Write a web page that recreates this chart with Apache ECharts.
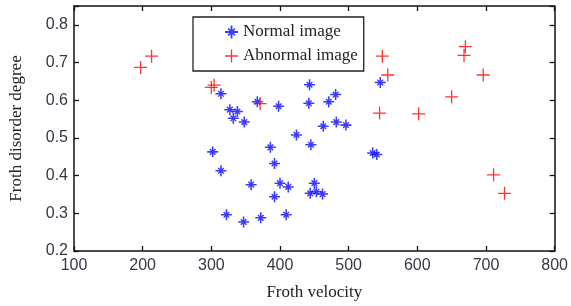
<!DOCTYPE html>
<html><head><meta charset="utf-8">
<script src="https://cdn.jsdelivr.net/npm/echarts@6/dist/echarts.min.js"></script>
<style>html,body{margin:0;padding:0;background:#fff}#c{width:571px;height:306px}</style>
</head><body><div id="c"></div>
<script>
var xTicks = [100, 200, 300, 400, 500, 600, 700, 800];
var yTicks = [0.2, 0.3, 0.4, 0.5, 0.6, 0.7, 0.8];
var seriesNames = ['Normal image', 'Abnormal image'];
var normalX = [314,327,338,332,348,367,398,424,302,386,443,442,471,481,463,482,496,445,546,535,541,314,392,358,400,412,392,322,347,372,409,450,444,453,462];
var normalY = [0.617,0.575,0.570,0.552,0.542,0.596,0.584,0.508,0.463,0.475,0.641,0.592,0.596,0.615,0.531,0.542,0.534,0.482,0.647,0.460,0.456,0.413,0.432,0.376,0.380,0.370,0.344,0.296,0.277,0.288,0.296,0.380,0.353,0.357,0.351];
var abnormalX = [197,213,300,304,371,549,557,545,602,650,670,668,696,711,727];
var abnormalY = [0.687,0.717,0.634,0.640,0.591,0.717,0.667,0.566,0.564,0.609,0.742,0.719,0.667,0.402,0.353];

function zip(a, b) { return a.map(function (v, i) { return [v, b[i]]; }); }

var starPath = 'path://M0,4.3H10V5.7H0Z M4.3,0H5.7V10H4.3Z M2,2.9L2.9,2L8,7.1L7.1,8Z M7.1,2L8,2.9L2.9,8L2,7.1Z M3.3,3.3H6.7V6.7H3.3Z';
var plusPath = 'path://M0,5.4H12V6.6H0Z M5.4,0H6.6V12H5.4Z';

var chart = echarts.init(document.getElementById('c'), null, {renderer: 'canvas'});
var axisLine = {show: true, lineStyle: {color: '#111', width: 1.5}};
var tick = {show: true, inside: true, length: 5, lineStyle: {color: '#111', width: 1.3}};
var lbl = {color: '#363646', fontFamily: 'Liberation Sans', fontSize: 16};
chart.setOption({
  animation: false,
  backgroundColor: '#fff',
  grid: {left: 65, right: 16, top: 6, bottom: 49, containLabel: false},
  legend: {
    data: seriesNames,
    orient: 'vertical',
    left: 193, top: 17,
    padding: [5, 6, 5, 32],
    itemGap: 4,
    itemWidth: 13, itemHeight: 13,
    borderColor: '#222', borderWidth: 1.3,
    backgroundColor: '#fff',
    selectedMode: false,
    textStyle: {fontFamily: 'Liberation Serif', fontSize: 17, color: '#222', lineHeight: 20}
  },
  xAxis: [{
    type: 'value', min: xTicks[0], max: xTicks[xTicks.length - 1], interval: 100,
    name: 'Froth velocity', nameLocation: 'middle', nameGap: 33,
    nameTextStyle: {fontFamily: 'Liberation Serif', fontSize: 17, color: '#222'},
    axisLine: axisLine, axisTick: tick, splitLine: {show: false},
    axisLabel: Object.assign({margin: 7}, lbl)
  }, {
    type: 'value', position: 'top', min: xTicks[0], max: xTicks[xTicks.length - 1], interval: 100,
    axisLine: axisLine, axisTick: tick, splitLine: {show: false}, axisLabel: {show: false}
  }],
  yAxis: [{
    type: 'value', min: yTicks[0], max: 0.85, interval: 0.1,
    name: 'Froth disorder degree', nameLocation: 'middle', nameGap: 49,
    nameTextStyle: {fontFamily: 'Liberation Serif', fontSize: 17, color: '#222'},
    axisLine: axisLine, axisTick: tick, splitLine: {show: false},
    axisLabel: Object.assign({margin: 6, formatter: function (v) { return v > 0.81 ? '' : v.toFixed(1); }}, lbl)
  }, {
    type: 'value', position: 'right', min: yTicks[0], max: 0.85, interval: 0.1,
    axisLine: axisLine, axisTick: tick, splitLine: {show: false}, axisLabel: {show: false}
  }],
  series: [{
    name: seriesNames[0], type: 'scatter', symbol: starPath, symbolSize: 11,
    itemStyle: {color: '#0a0aff'}, data: zip(normalX, normalY), z: 2
  }, {
    name: seriesNames[1], type: 'scatter', symbol: plusPath, symbolSize: 13,
    itemStyle: {color: '#ff0000'}, data: zip(abnormalX, abnormalY), z: 3
  }]
});
</script></body></html>
